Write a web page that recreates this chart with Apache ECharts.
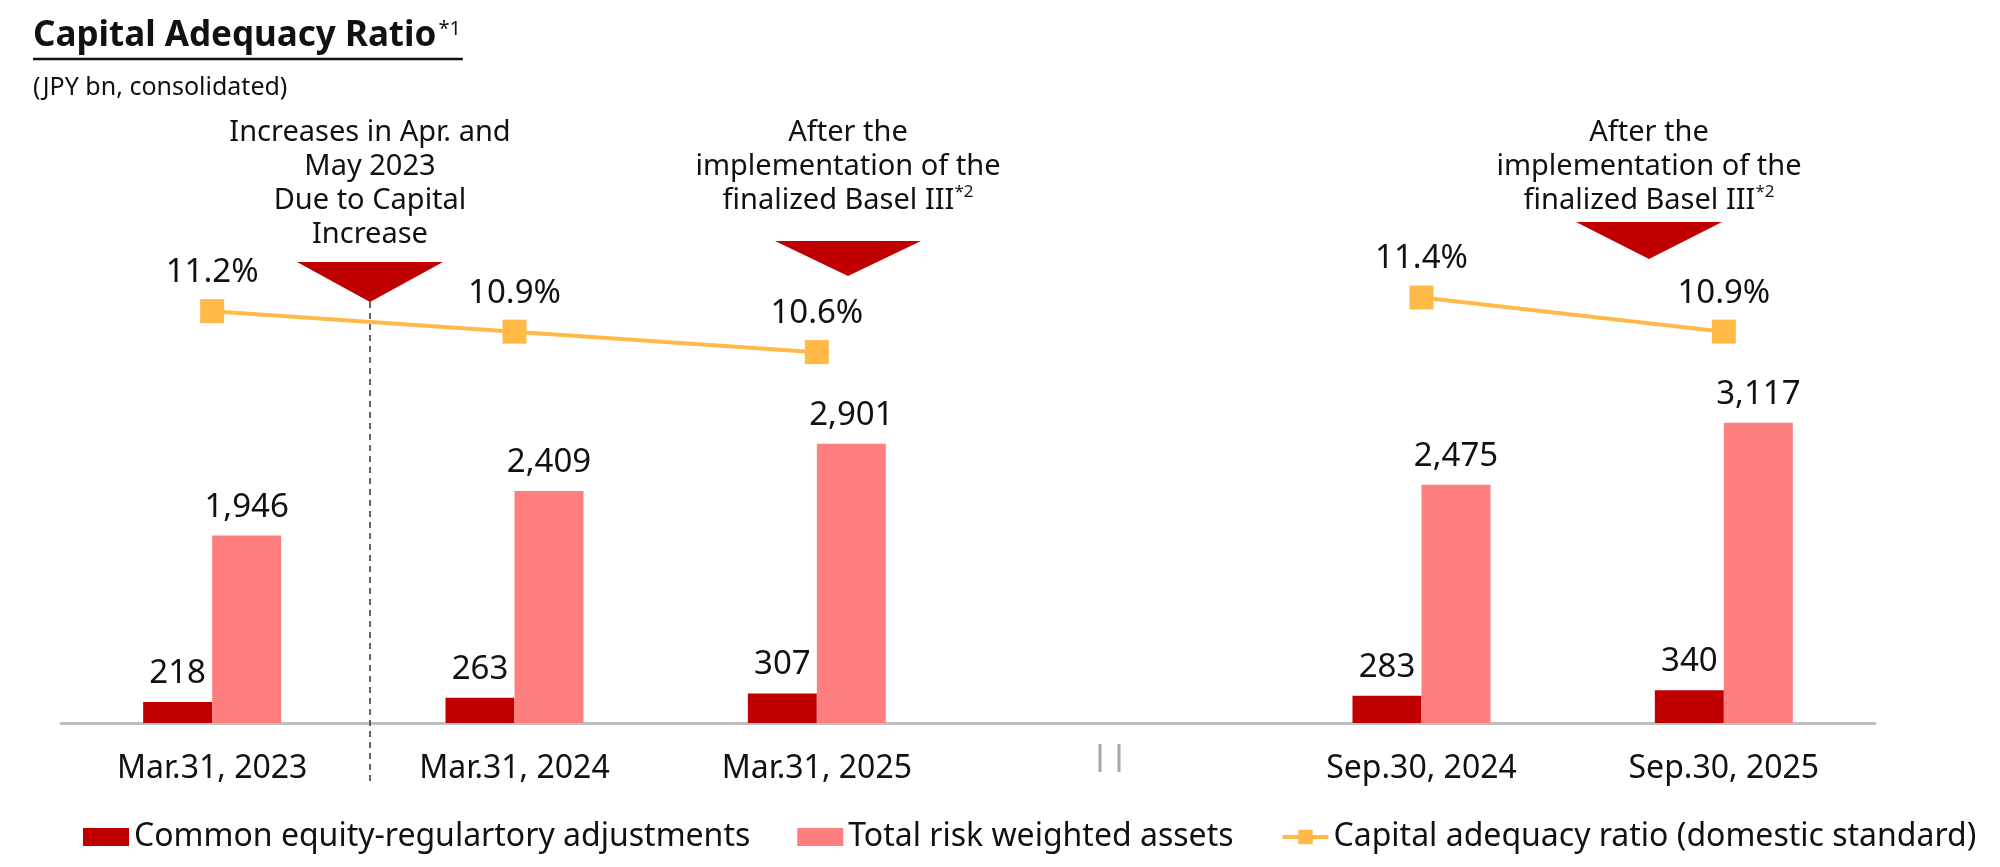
<!DOCTYPE html>
<html>
<head>
<meta charset="utf-8">
<script src="https://cdn.jsdelivr.net/npm/echarts@6/dist/echarts.min.js"></script>
<style>
html,body{margin:0;padding:0;background:#fff;}
#c{width:2000px;height:867px;}
</style>
</head>
<body>
<div id="c"></div>
<script>
const categories = ['Mar.31, 2023', 'Mar.31, 2024', 'Mar.31, 2025', '', 'Sep.30, 2024', 'Sep.30, 2025'];
const commonEquity = [218, 263, 307, null, 283, 340];
const riskWeighted = [1946, 2409, 2901, null, 2475, 3117];
const capitalRatio = [11.2, 10.9, 10.6, null, 11.4, 10.9];
const seriesNames = ['Common equity-regulartory adjustments', 'Total risk weighted assets', 'Capital adequacy ratio (domestic standard)'];

const FONT = '"Noto Sans", "DejaVu Sans", sans-serif';
const chart = echarts.init(document.getElementById('c'), null, {renderer: 'canvas'});

function fmtNum(v) { return Number(v).toLocaleString('en-US'); }

// measure title width for the underline
const mctx = document.createElement('canvas').getContext('2d');
mctx.font = 'bold 35px "Noto Sans"';
const titleW = mctx.measureText('Capital Adequacy Ratio').width;
mctx.font = '20px "Noto Sans"';
const supW = mctx.measureText('*1').width;

const annoStyle = {
  fontFamily: FONT, fontSize: 29, fill: '#111', align: 'center', lineHeight: 34,
  rich: {
    n: {fontFamily: FONT, fontSize: 29, color: '#111', lineHeight: 34},
    s: {fontFamily: FONT, fontSize: 17, color: '#111', lineHeight: 34, verticalAlign: 'top', padding: [0, 0, 10, 0]}
  }
};

function anno(x, y, text) {
  return {type: 'text', x: x, y: y, z: 10,
    style: Object.assign({}, annoStyle, {text: text, verticalAlign: 'top'})};
}

function tri(cx, top, w, h) {
  return {type: 'polygon', z: 10, shape: {points: [[cx - w / 2, top], [cx + w / 2, top], [cx, top + h]]},
    style: {fill: '#C00000'}};
}

const option = {
  animation: false,
  backgroundColor: '#fff',
  textStyle: {fontFamily: FONT},
  grid: {left: 61, right: 125, top: 123, bottom: 144, containLabel: false},
  legend: {
    top: 816, left: 78, itemWidth: 46, itemHeight: 18, itemGap: 47,
    textStyle: {fontFamily: FONT, fontSize: 32, color: '#111'},
    data: [
      {name: seriesNames[0], icon: 'rect'},
      {name: seriesNames[1], icon: 'rect'},
      {name: seriesNames[2], lineStyle: {width: 4}}
    ]
  },
  xAxis: {
    type: 'category', data: categories,
    axisLine: {show: true, lineStyle: {color: '#BFBFBF', width: 3}},
    axisTick: {show: false},
    axisLabel: {fontFamily: FONT, fontSize: 32, color: '#111', margin: 30, interval: 0}
  },
  yAxis: [
    {type: 'value', min: 0, max: 6231, show: false, splitLine: {show: false}},
    {type: 'value', min: 5.17, max: 13.955, show: false, splitLine: {show: false}}
  ],
  series: [
    {
      name: seriesNames[0], type: 'bar', data: commonEquity, barWidth: 69, barGap: '0%',
      itemStyle: {color: '#C00000'},
      label: {show: true, position: 'top', distance: 12, fontFamily: FONT, fontSize: 33, color: '#111',
        formatter: p => fmtNum(p.value)}
    },
    {
      name: seriesNames[1], type: 'bar', data: riskWeighted, barWidth: 69, barGap: '0%',
      itemStyle: {color: '#FF7F7F'},
      label: {show: true, position: 'top', distance: 12, fontFamily: FONT, fontSize: 33, color: '#111',
        formatter: p => fmtNum(p.value)}
    },
    {
      name: seriesNames[2], type: 'line', yAxisIndex: 1, data: capitalRatio, connectNulls: false,
      symbol: 'rect', symbolSize: 24,
      lineStyle: {color: '#FFB946', width: 4},
      itemStyle: {color: '#FFB946'},
      label: {show: true, position: 'top', distance: 10, fontFamily: FONT, fontSize: 33, color: '#111',
        formatter: p => p.value.toFixed(1) + '%'}
    }
  ],
  graphic: [
    {type: 'text', x: 33, y: 19, style: {text: 'Capital Adequacy Ratio', fontFamily: FONT, fontSize: 35, fontWeight: 'bold', fill: '#111'}},
    {type: 'text', x: 33 + titleW + 2, y: 19, style: {text: '*1', fontFamily: FONT, fontSize: 20, fill: '#111'}},
    {type: 'line', shape: {x1: 33, y1: 59, x2: 33 + titleW + supW + 4, y2: 59}, style: {stroke: '#111', lineWidth: 2.5}},
    {type: 'text', x: 33, y: 75, style: {text: '(JPY bn, consolidated)', fontFamily: FONT, fontSize: 25, fill: '#111'}},

    anno(370, 116, '{n|Increases in Apr. and}\n{n|May 2023}\n{n|Due to Capital}\n{n|Increase}'),
    anno(848, 116, '{n|After the}\n{n|implementation of the}\n{n|finalized Basel III}{s|*2}'),
    anno(1649, 116, '{n|After the}\n{n|implementation of the}\n{n|finalized Basel III}{s|*2}'),

    tri(370, 262, 146, 40),
    tri(848, 241, 146, 35),
    tri(1649, 222, 146, 37),

    {type: 'line', z: 5, shape: {x1: 370, y1: 302, x2: 370, y2: 784},
      style: {stroke: '#555', lineWidth: 1.8, lineDash: [6, 5]}},

    {type: 'line', z: 5, shape: {x1: 1100, y1: 744, x2: 1100, y2: 772}, style: {stroke: '#A8A8A8', lineWidth: 3}},
    {type: 'line', z: 5, shape: {x1: 1119, y1: 744, x2: 1119, y2: 772}, style: {stroke: '#A8A8A8', lineWidth: 3}}
  ]
};

chart.setOption(option);
</script>
</body>
</html>
